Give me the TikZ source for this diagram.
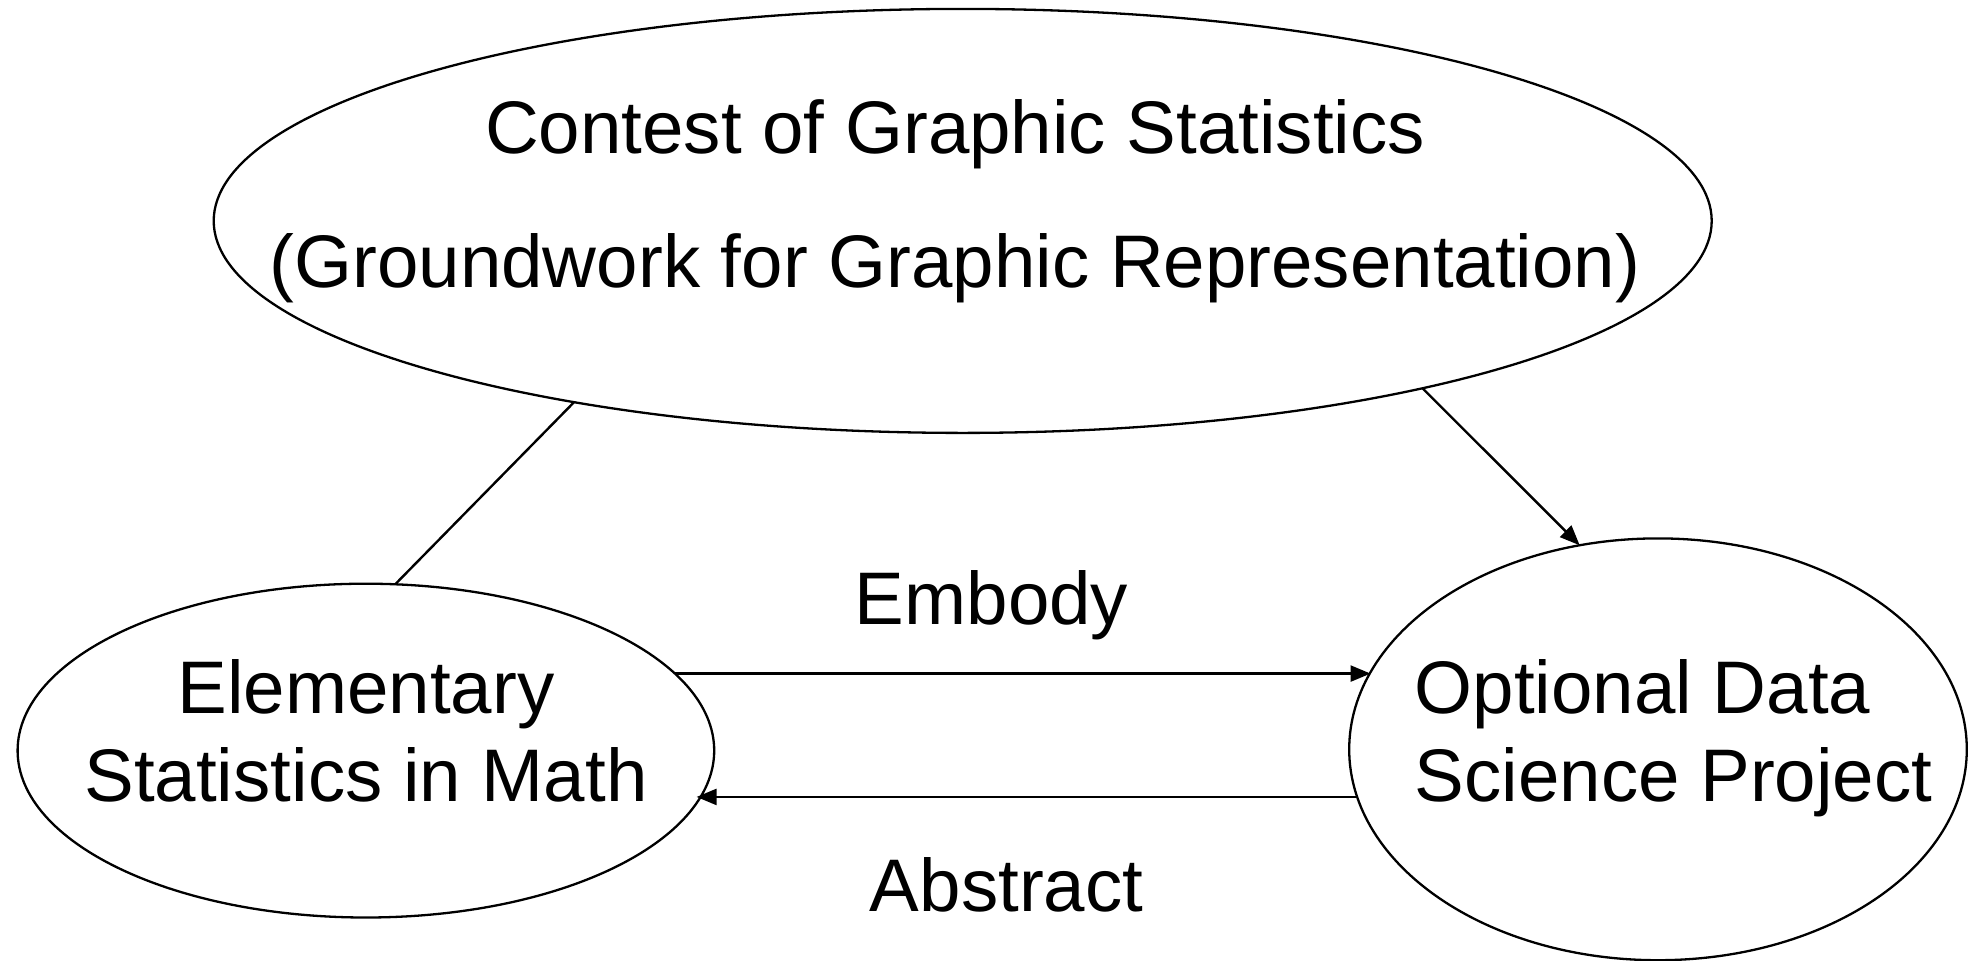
\documentclass[tikz,border=0pt]{standalone}
\usepackage{fontspec}
\setmainfont{Liberation Sans}
\usetikzlibrary{shapes.geometric,arrows.meta}
\begin{document}
\begin{tikzpicture}[x=1pt,y=1pt,
  oval/.style={draw,ellipse,line width=2.3pt,inner sep=0pt,outer sep=0pt},
  txt/.style={inner sep=0pt,font=\fontsize{74.5}{89}\selectfont},
  conn/.style={line width=2.4pt},
  arr/.style={line width=2.4pt,-{Triangle[length=20pt,width=16pt]}}]
\useasboundingbox (0,0) rectangle (1968,-961);
\node[oval,minimum width=1498pt,minimum height=424pt] (top) at (962.7,-220.9) {};
\node[oval,minimum width=696.6pt,minimum height=333.8pt] (left) at (365.9,-750.6) {};
\node[oval,minimum width=617.6pt,minimum height=421.8pt] (right) at (1658,-749.3) {};
\node[txt,anchor=base] (t1) at (955,-153) {Contest of Graphic Statistics};
\node[txt,anchor=base] (t2) at (955,-287.5) {(Groundwork for Graphic Representation)};
\node[txt,anchor=base] (l1) at (366,-713) {Elementary};
\node[txt,anchor=base] (l2) at (366,-801) {Statistics in Math};
\node[txt,anchor=base west] (r1) at (1414.5,-713) {Optional Data};
\node[txt,anchor=base west] (r2) at (1414.5,-801) {Science Project};
\node[txt,anchor=base] (emb) at (991.5,-624) {Embody};
\node[txt,anchor=base] (abs) at (1006.6,-911) {Abstract};
\draw[conn] (top.205.2) -- (left.80.4);
\draw[arr] (top.340) -- (right.111.6);
\draw[arr] (left.14.0) -- (right.165.6 |- left.14.0);
\draw[arr] (right.189.6) -- (left.351.5 |- right.189.6);
\end{tikzpicture}
\end{document}
